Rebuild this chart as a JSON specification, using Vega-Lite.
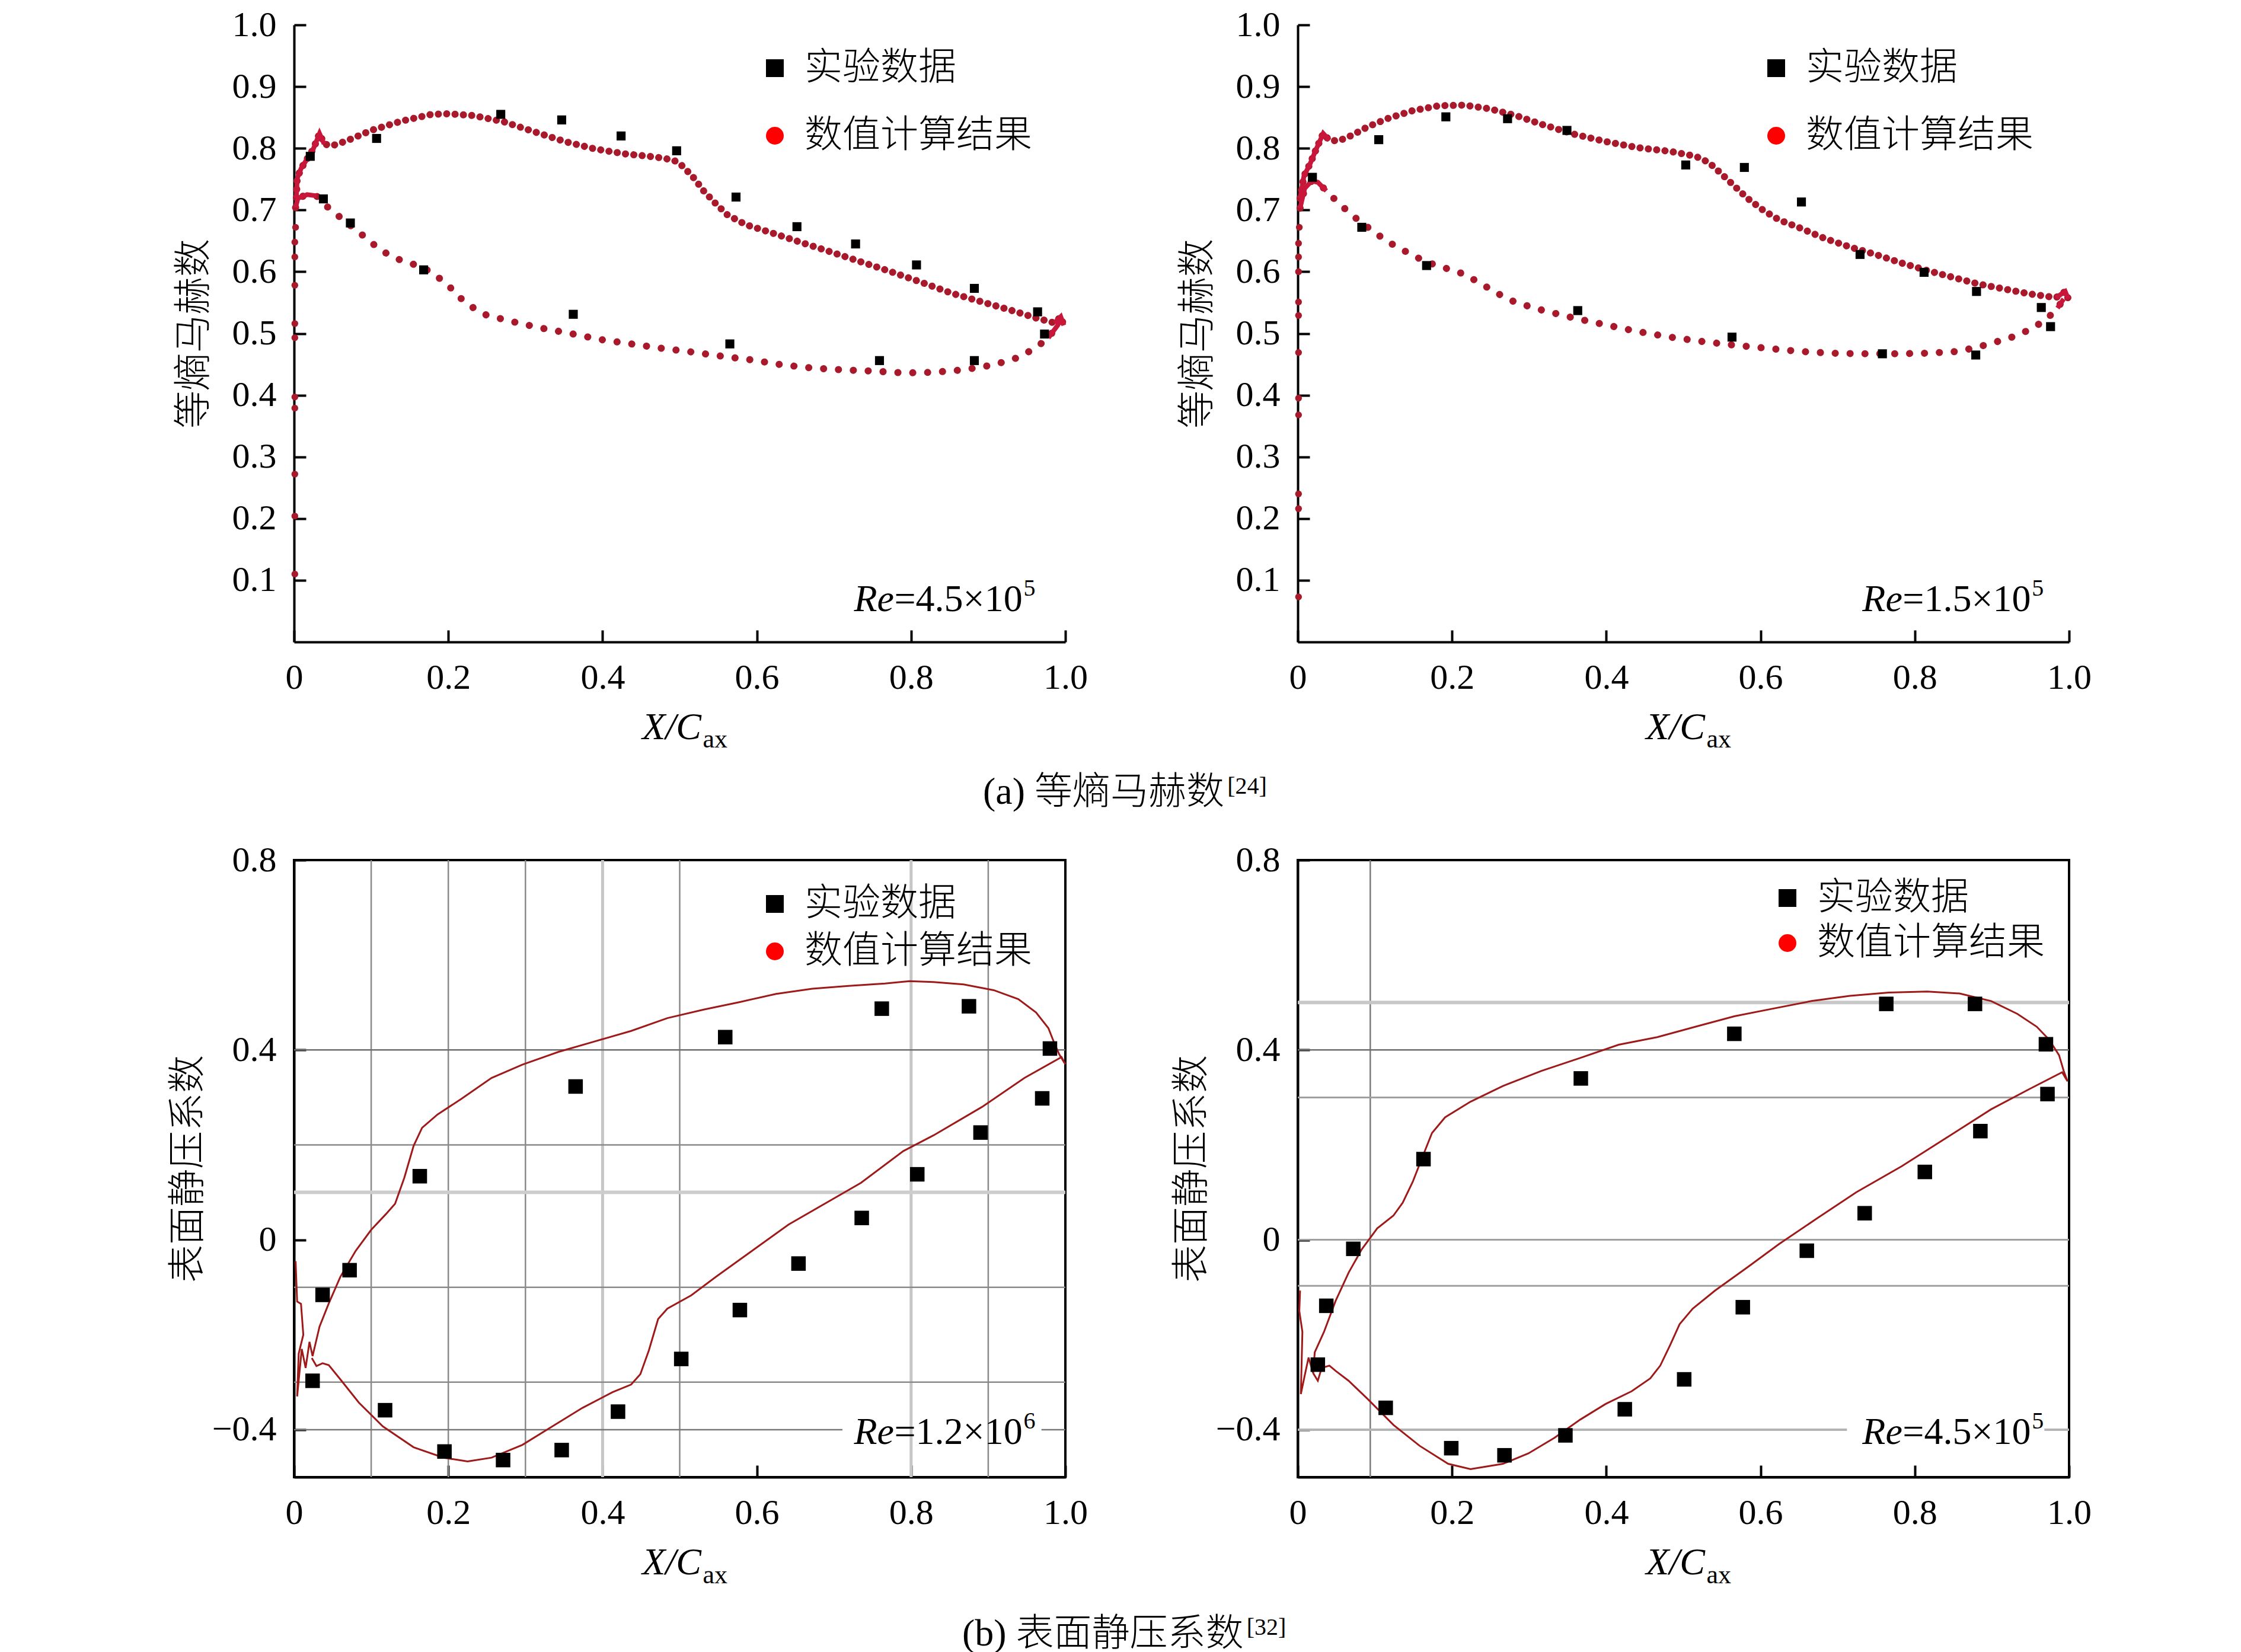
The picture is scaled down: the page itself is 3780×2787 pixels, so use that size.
{
  "$schema": "https://vega.github.io/schema/vega-lite/v6.json",
  "background": "white",
  "padding": {"left": 283, "top": 12, "right": 5, "bottom": 0},
  "datasets": {
    "tl_exp": [
      {"x": 0.021, "y": 0.787}, {"x": 0.107, "y": 0.816}, {"x": 0.268, "y": 0.855}, {"x": 0.347, "y": 0.846},
      {"x": 0.424, "y": 0.820}, {"x": 0.496, "y": 0.796}, {"x": 0.573, "y": 0.721}, {"x": 0.652, "y": 0.673},
      {"x": 0.728, "y": 0.645}, {"x": 0.807, "y": 0.611}, {"x": 0.882, "y": 0.573}, {"x": 0.964, "y": 0.535},
      {"x": 0.973, "y": 0.499}, {"x": 0.038, "y": 0.718}, {"x": 0.073, "y": 0.679}, {"x": 0.168, "y": 0.603},
      {"x": 0.362, "y": 0.531}, {"x": 0.565, "y": 0.483}, {"x": 0.759, "y": 0.456}, {"x": 0.882, "y": 0.456}
    ],
    "tl_num": [
      {"srf": "u", "x": 0.003, "y": 0.720}, {"srf": "u", "x": 0.004, "y": 0.751}, {"srf": "u", "x": 0.009, "y": 0.767},
      {"srf": "u", "x": 0.017, "y": 0.783}, {"srf": "u", "x": 0.025, "y": 0.799}, {"srf": "u", "x": 0.033, "y": 0.824},
      {"srf": "u", "x": 0.039, "y": 0.807}, {"srf": "u", "x": 0.049, "y": 0.804}, {"srf": "u", "x": 0.068, "y": 0.812},
      {"srf": "u", "x": 0.100, "y": 0.829}, {"srf": "u", "x": 0.139, "y": 0.844}, {"srf": "u", "x": 0.178, "y": 0.855},
      {"srf": "u", "x": 0.200, "y": 0.856}, {"srf": "u", "x": 0.233, "y": 0.853}, {"srf": "u", "x": 0.272, "y": 0.843},
      {"srf": "u", "x": 0.311, "y": 0.827}, {"srf": "u", "x": 0.351, "y": 0.811}, {"srf": "u", "x": 0.390, "y": 0.799},
      {"srf": "u", "x": 0.429, "y": 0.791}, {"srf": "u", "x": 0.468, "y": 0.786}, {"srf": "u", "x": 0.492, "y": 0.781},
      {"srf": "u", "x": 0.504, "y": 0.771}, {"srf": "u", "x": 0.519, "y": 0.751}, {"srf": "u", "x": 0.531, "y": 0.731},
      {"srf": "u", "x": 0.547, "y": 0.710}, {"srf": "u", "x": 0.562, "y": 0.692}, {"srf": "u", "x": 0.586, "y": 0.676},
      {"srf": "u", "x": 0.617, "y": 0.664}, {"srf": "u", "x": 0.656, "y": 0.648}, {"srf": "u", "x": 0.696, "y": 0.632},
      {"srf": "u", "x": 0.735, "y": 0.616}, {"srf": "u", "x": 0.774, "y": 0.600}, {"srf": "u", "x": 0.813, "y": 0.583},
      {"srf": "u", "x": 0.853, "y": 0.565}, {"srf": "u", "x": 0.892, "y": 0.551}, {"srf": "u", "x": 0.931, "y": 0.537},
      {"srf": "u", "x": 0.962, "y": 0.525}, {"srf": "u", "x": 0.986, "y": 0.517}, {"srf": "u", "x": 0.994, "y": 0.527},
      {"srf": "u", "x": 0.998, "y": 0.513},
      {"srf": "l", "x": 0.002, "y": 0.704}, {"srf": "l", "x": 0.005, "y": 0.719}, {"srf": "l", "x": 0.017, "y": 0.725},
      {"srf": "l", "x": 0.029, "y": 0.723}, {"srf": "l", "x": 0.045, "y": 0.703}, {"srf": "l", "x": 0.060, "y": 0.688},
      {"srf": "l", "x": 0.076, "y": 0.672}, {"srf": "l", "x": 0.092, "y": 0.656}, {"srf": "l", "x": 0.111, "y": 0.636},
      {"srf": "l", "x": 0.131, "y": 0.622}, {"srf": "l", "x": 0.155, "y": 0.612}, {"srf": "l", "x": 0.174, "y": 0.602},
      {"srf": "l", "x": 0.190, "y": 0.588}, {"srf": "l", "x": 0.202, "y": 0.575}, {"srf": "l", "x": 0.217, "y": 0.556},
      {"srf": "l", "x": 0.233, "y": 0.541}, {"srf": "l", "x": 0.249, "y": 0.530}, {"srf": "l", "x": 0.280, "y": 0.520},
      {"srf": "l", "x": 0.319, "y": 0.509}, {"srf": "l", "x": 0.358, "y": 0.500}, {"srf": "l", "x": 0.398, "y": 0.490},
      {"srf": "l", "x": 0.437, "y": 0.483}, {"srf": "l", "x": 0.476, "y": 0.476}, {"srf": "l", "x": 0.515, "y": 0.470},
      {"srf": "l", "x": 0.555, "y": 0.463}, {"srf": "l", "x": 0.594, "y": 0.457}, {"srf": "l", "x": 0.633, "y": 0.449},
      {"srf": "l", "x": 0.672, "y": 0.444}, {"srf": "l", "x": 0.711, "y": 0.441}, {"srf": "l", "x": 0.751, "y": 0.439},
      {"srf": "l", "x": 0.790, "y": 0.436}, {"srf": "l", "x": 0.829, "y": 0.437}, {"srf": "l", "x": 0.868, "y": 0.441},
      {"srf": "l", "x": 0.907, "y": 0.449}, {"srf": "l", "x": 0.939, "y": 0.461}, {"srf": "l", "x": 0.962, "y": 0.477},
      {"srf": "l", "x": 0.978, "y": 0.493}, {"srf": "l", "x": 0.990, "y": 0.513}, {"srf": "l", "x": 0.995, "y": 0.525}
    ],
    "tl_le": [
      {"x": 0.001, "y": 0.110}, {"x": 0.001, "y": 0.204}, {"x": 0.001, "y": 0.272}, {"x": 0.001, "y": 0.379},
      {"x": 0.001, "y": 0.397}, {"x": 0.001, "y": 0.493}, {"x": 0.001, "y": 0.516}, {"x": 0.001, "y": 0.578},
      {"x": 0.001, "y": 0.624}, {"x": 0.001, "y": 0.648}, {"x": 0.002, "y": 0.672}
    ],
    "tr_exp": [
      {"x": 0.019, "y": 0.753}, {"x": 0.105, "y": 0.814}, {"x": 0.192, "y": 0.851}, {"x": 0.272, "y": 0.848},
      {"x": 0.349, "y": 0.829}, {"x": 0.503, "y": 0.773}, {"x": 0.579, "y": 0.769}, {"x": 0.653, "y": 0.713},
      {"x": 0.729, "y": 0.628}, {"x": 0.812, "y": 0.599}, {"x": 0.880, "y": 0.568}, {"x": 0.964, "y": 0.542},
      {"x": 0.976, "y": 0.511}, {"x": 0.083, "y": 0.672}, {"x": 0.167, "y": 0.610}, {"x": 0.363, "y": 0.537},
      {"x": 0.563, "y": 0.494}, {"x": 0.758, "y": 0.467}, {"x": 0.879, "y": 0.465}
    ],
    "tr_num": [
      {"srf": "u", "x": 0.003, "y": 0.719}, {"srf": "u", "x": 0.008, "y": 0.755}, {"srf": "u", "x": 0.016, "y": 0.775},
      {"srf": "u", "x": 0.024, "y": 0.799}, {"srf": "u", "x": 0.033, "y": 0.824}, {"srf": "u", "x": 0.041, "y": 0.813},
      {"srf": "u", "x": 0.053, "y": 0.812}, {"srf": "u", "x": 0.070, "y": 0.821}, {"srf": "u", "x": 0.091, "y": 0.835},
      {"srf": "u", "x": 0.116, "y": 0.848}, {"srf": "u", "x": 0.149, "y": 0.861}, {"srf": "u", "x": 0.183, "y": 0.869},
      {"srf": "u", "x": 0.216, "y": 0.870}, {"srf": "u", "x": 0.249, "y": 0.864}, {"srf": "u", "x": 0.283, "y": 0.853},
      {"srf": "u", "x": 0.316, "y": 0.839}, {"srf": "u", "x": 0.358, "y": 0.823}, {"srf": "u", "x": 0.399, "y": 0.811},
      {"srf": "u", "x": 0.441, "y": 0.801}, {"srf": "u", "x": 0.483, "y": 0.795}, {"srf": "u", "x": 0.516, "y": 0.787},
      {"srf": "u", "x": 0.533, "y": 0.777}, {"srf": "u", "x": 0.549, "y": 0.759}, {"srf": "u", "x": 0.566, "y": 0.739},
      {"srf": "u", "x": 0.583, "y": 0.719}, {"srf": "u", "x": 0.603, "y": 0.700}, {"srf": "u", "x": 0.624, "y": 0.684},
      {"srf": "u", "x": 0.649, "y": 0.672}, {"srf": "u", "x": 0.683, "y": 0.654}, {"srf": "u", "x": 0.716, "y": 0.640},
      {"srf": "u", "x": 0.749, "y": 0.628}, {"srf": "u", "x": 0.783, "y": 0.614}, {"srf": "u", "x": 0.816, "y": 0.602},
      {"srf": "u", "x": 0.849, "y": 0.591}, {"srf": "u", "x": 0.883, "y": 0.580}, {"srf": "u", "x": 0.916, "y": 0.572},
      {"srf": "u", "x": 0.949, "y": 0.564}, {"srf": "u", "x": 0.983, "y": 0.558}, {"srf": "u", "x": 0.995, "y": 0.568},
      {"srf": "u", "x": 0.999, "y": 0.556},
      {"srf": "l", "x": 0.003, "y": 0.703}, {"srf": "l", "x": 0.009, "y": 0.735}, {"srf": "l", "x": 0.018, "y": 0.747},
      {"srf": "l", "x": 0.026, "y": 0.745}, {"srf": "l", "x": 0.037, "y": 0.731}, {"srf": "l", "x": 0.053, "y": 0.711},
      {"srf": "l", "x": 0.074, "y": 0.688}, {"srf": "l", "x": 0.095, "y": 0.668}, {"srf": "l", "x": 0.116, "y": 0.649},
      {"srf": "l", "x": 0.141, "y": 0.632}, {"srf": "l", "x": 0.166, "y": 0.616}, {"srf": "l", "x": 0.191, "y": 0.606},
      {"srf": "l", "x": 0.216, "y": 0.596}, {"srf": "l", "x": 0.241, "y": 0.578}, {"srf": "l", "x": 0.266, "y": 0.560},
      {"srf": "l", "x": 0.283, "y": 0.550}, {"srf": "l", "x": 0.316, "y": 0.538}, {"srf": "l", "x": 0.358, "y": 0.525},
      {"srf": "l", "x": 0.399, "y": 0.514}, {"srf": "l", "x": 0.441, "y": 0.503}, {"srf": "l", "x": 0.483, "y": 0.494},
      {"srf": "l", "x": 0.524, "y": 0.487}, {"srf": "l", "x": 0.566, "y": 0.481}, {"srf": "l", "x": 0.608, "y": 0.476},
      {"srf": "l", "x": 0.649, "y": 0.471}, {"srf": "l", "x": 0.691, "y": 0.468}, {"srf": "l", "x": 0.733, "y": 0.467},
      {"srf": "l", "x": 0.774, "y": 0.467}, {"srf": "l", "x": 0.816, "y": 0.468}, {"srf": "l", "x": 0.858, "y": 0.471},
      {"srf": "l", "x": 0.891, "y": 0.481}, {"srf": "l", "x": 0.924, "y": 0.493}, {"srf": "l", "x": 0.949, "y": 0.506},
      {"srf": "l", "x": 0.970, "y": 0.522}, {"srf": "l", "x": 0.985, "y": 0.541}, {"srf": "l", "x": 0.993, "y": 0.556}
    ],
    "tr_le": [
      {"x": 0.001, "y": 0.073}, {"x": 0.001, "y": 0.216}, {"x": 0.001, "y": 0.240}, {"x": 0.001, "y": 0.368},
      {"x": 0.001, "y": 0.395}, {"x": 0.001, "y": 0.469}, {"x": 0.001, "y": 0.529}, {"x": 0.001, "y": 0.551},
      {"x": 0.001, "y": 0.600}, {"x": 0.001, "y": 0.624}, {"x": 0.001, "y": 0.646}, {"x": 0.002, "y": 0.672}
    ],
    "bl_exp": [
      {"x": 0.024, "y": -0.297}, {"x": 0.037, "y": -0.116}, {"x": 0.072, "y": -0.064}, {"x": 0.118, "y": -0.359},
      {"x": 0.163, "y": 0.134}, {"x": 0.195, "y": -0.446}, {"x": 0.271, "y": -0.464}, {"x": 0.347, "y": -0.443},
      {"x": 0.365, "y": 0.323}, {"x": 0.420, "y": -0.362}, {"x": 0.502, "y": -0.251}, {"x": 0.559, "y": 0.427},
      {"x": 0.578, "y": -0.148}, {"x": 0.654, "y": -0.050}, {"x": 0.736, "y": 0.046}, {"x": 0.762, "y": 0.487},
      {"x": 0.808, "y": 0.138}, {"x": 0.875, "y": 0.492}, {"x": 0.890, "y": 0.226}, {"x": 0.970, "y": 0.298},
      {"x": 0.980, "y": 0.403}
    ],
    "bl_num": [
      {"x": 0.002, "y": -0.045}, {"x": 0.004, "y": -0.130}, {"x": 0.009, "y": -0.135}, {"x": 0.012, "y": -0.200},
      {"x": 0.006, "y": -0.240}, {"x": 0.004, "y": -0.330}, {"x": 0.010, "y": -0.230}, {"x": 0.015, "y": -0.270},
      {"x": 0.020, "y": -0.215}, {"x": 0.024, "y": -0.245}, {"x": 0.033, "y": -0.183}, {"x": 0.045, "y": -0.134},
      {"x": 0.060, "y": -0.078}, {"x": 0.080, "y": -0.023}, {"x": 0.100, "y": 0.021}, {"x": 0.119, "y": 0.054},
      {"x": 0.131, "y": 0.076}, {"x": 0.143, "y": 0.131}, {"x": 0.155, "y": 0.198}, {"x": 0.166, "y": 0.236},
      {"x": 0.186, "y": 0.264}, {"x": 0.217, "y": 0.297}, {"x": 0.256, "y": 0.341}, {"x": 0.296, "y": 0.369},
      {"x": 0.343, "y": 0.396}, {"x": 0.390, "y": 0.418}, {"x": 0.437, "y": 0.440}, {"x": 0.484, "y": 0.467},
      {"x": 0.531, "y": 0.485}, {"x": 0.578, "y": 0.501}, {"x": 0.625, "y": 0.518}, {"x": 0.672, "y": 0.529},
      {"x": 0.719, "y": 0.535}, {"x": 0.766, "y": 0.540}, {"x": 0.798, "y": 0.545}, {"x": 0.829, "y": 0.543},
      {"x": 0.868, "y": 0.538}, {"x": 0.907, "y": 0.526}, {"x": 0.939, "y": 0.507}, {"x": 0.962, "y": 0.479},
      {"x": 0.978, "y": 0.446}, {"x": 0.986, "y": 0.413}, {"x": 0.992, "y": 0.391}, {"x": 0.998, "y": 0.375},
      {"x": 1.000, "y": 0.370}, {"x": 0.995, "y": 0.385}, {"x": 0.947, "y": 0.341}, {"x": 0.892, "y": 0.280},
      {"x": 0.829, "y": 0.220}, {"x": 0.790, "y": 0.187}, {"x": 0.735, "y": 0.120}, {"x": 0.688, "y": 0.076},
      {"x": 0.641, "y": 0.032}, {"x": 0.594, "y": -0.023}, {"x": 0.547, "y": -0.078}, {"x": 0.515, "y": -0.117},
      {"x": 0.484, "y": -0.145}, {"x": 0.472, "y": -0.167}, {"x": 0.460, "y": -0.233}, {"x": 0.449, "y": -0.283},
      {"x": 0.437, "y": -0.305}, {"x": 0.413, "y": -0.321}, {"x": 0.374, "y": -0.354}, {"x": 0.335, "y": -0.393},
      {"x": 0.296, "y": -0.432}, {"x": 0.256, "y": -0.459}, {"x": 0.225, "y": -0.467}, {"x": 0.194, "y": -0.459},
      {"x": 0.155, "y": -0.437}, {"x": 0.115, "y": -0.393}, {"x": 0.084, "y": -0.343}, {"x": 0.060, "y": -0.294},
      {"x": 0.045, "y": -0.264}, {"x": 0.037, "y": -0.260}, {"x": 0.029, "y": -0.266}, {"x": 0.023, "y": -0.249}
    ],
    "br_exp": [
      {"x": 0.026, "y": -0.263}, {"x": 0.037, "y": -0.139}, {"x": 0.072, "y": -0.019}, {"x": 0.114, "y": -0.354},
      {"x": 0.163, "y": 0.170}, {"x": 0.199, "y": -0.439}, {"x": 0.268, "y": -0.454}, {"x": 0.347, "y": -0.412},
      {"x": 0.367, "y": 0.340}, {"x": 0.424, "y": -0.357}, {"x": 0.501, "y": -0.294}, {"x": 0.566, "y": 0.434},
      {"x": 0.577, "y": -0.142}, {"x": 0.660, "y": -0.023}, {"x": 0.735, "y": 0.056}, {"x": 0.763, "y": 0.497},
      {"x": 0.813, "y": 0.143}, {"x": 0.878, "y": 0.497}, {"x": 0.885, "y": 0.229}, {"x": 0.970, "y": 0.412},
      {"x": 0.972, "y": 0.307}
    ],
    "br_num": [
      {"x": 0.003, "y": -0.107}, {"x": 0.002, "y": -0.150}, {"x": 0.006, "y": -0.194}, {"x": 0.004, "y": -0.325},
      {"x": 0.009, "y": -0.286}, {"x": 0.014, "y": -0.248}, {"x": 0.020, "y": -0.281}, {"x": 0.022, "y": -0.237},
      {"x": 0.034, "y": -0.194}, {"x": 0.049, "y": -0.129}, {"x": 0.066, "y": -0.069}, {"x": 0.083, "y": -0.020},
      {"x": 0.103, "y": 0.024}, {"x": 0.124, "y": 0.051}, {"x": 0.136, "y": 0.078}, {"x": 0.149, "y": 0.122},
      {"x": 0.162, "y": 0.176}, {"x": 0.174, "y": 0.225}, {"x": 0.191, "y": 0.258}, {"x": 0.224, "y": 0.291},
      {"x": 0.266, "y": 0.324}, {"x": 0.316, "y": 0.356}, {"x": 0.366, "y": 0.383}, {"x": 0.416, "y": 0.411},
      {"x": 0.466, "y": 0.427}, {"x": 0.516, "y": 0.449}, {"x": 0.566, "y": 0.471}, {"x": 0.616, "y": 0.487},
      {"x": 0.666, "y": 0.503}, {"x": 0.716, "y": 0.514}, {"x": 0.766, "y": 0.521}, {"x": 0.816, "y": 0.523},
      {"x": 0.858, "y": 0.519}, {"x": 0.899, "y": 0.503}, {"x": 0.933, "y": 0.476}, {"x": 0.958, "y": 0.449},
      {"x": 0.974, "y": 0.422}, {"x": 0.987, "y": 0.389}, {"x": 0.993, "y": 0.356}, {"x": 0.998, "y": 0.334},
      {"x": 0.991, "y": 0.353}, {"x": 0.949, "y": 0.318}, {"x": 0.899, "y": 0.275}, {"x": 0.841, "y": 0.215},
      {"x": 0.783, "y": 0.155}, {"x": 0.724, "y": 0.100}, {"x": 0.674, "y": 0.046}, {"x": 0.624, "y": -0.009},
      {"x": 0.583, "y": -0.058}, {"x": 0.541, "y": -0.107}, {"x": 0.512, "y": -0.145}, {"x": 0.495, "y": -0.178},
      {"x": 0.483, "y": -0.221}, {"x": 0.470, "y": -0.265}, {"x": 0.457, "y": -0.292}, {"x": 0.433, "y": -0.319},
      {"x": 0.399, "y": -0.346}, {"x": 0.366, "y": -0.379}, {"x": 0.333, "y": -0.417}, {"x": 0.299, "y": -0.450},
      {"x": 0.266, "y": -0.472}, {"x": 0.224, "y": -0.483}, {"x": 0.195, "y": -0.472}, {"x": 0.158, "y": -0.434},
      {"x": 0.124, "y": -0.390}, {"x": 0.091, "y": -0.336}, {"x": 0.066, "y": -0.297}, {"x": 0.049, "y": -0.276},
      {"x": 0.041, "y": -0.265}, {"x": 0.031, "y": -0.270}, {"x": 0.026, "y": -0.297}, {"x": 0.020, "y": -0.281}
    ]
  },
  "config": {
    "view": {"stroke": null},
    "axis": {
      "domainColor": "#000", "domainWidth": 4, "tickColor": "#000", "tickWidth": 4, "tickSize": -20,
      "labelFont": "Liberation Serif", "labelFontSize": 60, "labelColor": "#000",
      "labelFlush": false, "labelOverlap": false, "grid": false,
      "titleFont": "Noto Sans CJK SC", "titleFontSize": 64, "titleFontWeight": 300, "titleColor": "#000"
    },
    "axisX": {"labelPadding": 51},
    "axisY": {"labelPadding": 50},
    "legend": {
      "labelFont": "Noto Sans CJK SC", "labelFontSize": 64, "labelFontWeight": 300, "labelColor": "#000",
      "symbolSize": 900, "symbolStrokeWidth": 0, "labelOffset": 18, "labelLimit": 0
    }
  },
  "bounds": "flush",
  "columns": 2,
  "spacing": {"row": 368, "column": 392},
  "resolve": {
    "scale": {"color": "independent", "shape": "independent"},
    "legend": {"color": "independent", "shape": "independent"}
  },
  "concat": [
    {
      "width": 1301,
      "height": 1041,
      "view": {"stroke": null},
      "layer": [
        {
          "data": {"name": "tl_num"},
          "transform": [{"window": [{"op": "row_number", "as": "i"}]}, {"filter": "datum.srf == 'u'"}],
          "mark": {"type": "line", "color": "#a8192b", "strokeWidth": 12, "strokeDash": [0.1, 14], "strokeCap": "round"},
          "encoding": {
            "x": {"field": "x", "type": "quantitative", "scale": {"domain": [0, 1], "nice": false},
              "axis": {"values": [0, 0.2, 0.4, 0.6, 0.8, 1.0], "title": null, "labelExpr": "datum.value == 0 ? '0' : format(datum.value, '.1f')"}},
            "y": {"field": "y", "type": "quantitative", "scale": {"domain": [0, 1], "nice": false},
              "axis": {"values": [0.1, 0.2, 0.3, 0.4, 0.5, 0.6, 0.7, 0.8, 0.9, 1.0], "title": "等熵马赫数", "titlePadding": 32, "labelExpr": "format(datum.value, '.1f')"}},
            "order": {"field": "i", "type": "quantitative"}
          }
        },
        {
          "data": {"name": "tl_num"},
          "transform": [{"window": [{"op": "row_number", "as": "i"}]}, {"filter": "datum.srf == 'l'"}],
          "mark": {"type": "line", "color": "#a8192b", "strokeWidth": 12, "strokeDash": [0.1, 25], "strokeCap": "round"},
          "encoding": {
            "x": {"field": "x", "type": "quantitative"},
            "y": {"field": "y", "type": "quantitative"},
            "order": {"field": "i", "type": "quantitative"}
          }
        },
        {
          "data": {"name": "tl_num"},
          "transform": [{"window": [{"op": "row_number", "as": "i"}]}, {"filter": "datum.x < 0.045"}],
          "mark": {"type": "line", "color": "#c8173a", "strokeWidth": 8},
          "encoding": {
            "x": {"field": "x", "type": "quantitative"},
            "y": {"field": "y", "type": "quantitative"},
            "detail": {"field": "srf"},
            "order": {"field": "i", "type": "quantitative"}
          }
        },
        {
          "data": {"name": "tl_num"},
          "transform": [{"window": [{"op": "row_number", "as": "i"}]}, {"filter": "datum.x > 0.97"}],
          "mark": {"type": "line", "color": "#c8173a", "strokeWidth": 8},
          "encoding": {
            "x": {"field": "x", "type": "quantitative"},
            "y": {"field": "y", "type": "quantitative"},
            "detail": {"field": "srf"},
            "order": {"field": "i", "type": "quantitative"}
          }
        },
        {
          "data": {"name": "tl_le"},
          "mark": {"type": "circle", "color": "#a8192b", "size": 130, "opacity": 1},
          "encoding": {"x": {"field": "x", "type": "quantitative"}, "y": {"field": "y", "type": "quantitative"}}
        },
        {
          "data": {"name": "tl_exp"},
          "mark": {"type": "point", "filled": true, "size": 230, "opacity": 1},
          "encoding": {
            "x": {"field": "x", "type": "quantitative"},
            "y": {"field": "y", "type": "quantitative"},
            "color": {"datum": "实验数据", "type": "nominal",
              "scale": {"domain": ["实验数据", "数值计算结果"], "range": ["#000000", "#ff0000"]},
              "legend": {"orient": "none", "legendX": 779, "legendY": 41, "title": null, "rowPadding": 50}},
            "shape": {"datum": "实验数据", "type": "nominal",
              "scale": {"domain": ["实验数据", "数值计算结果"], "range": ["square", "circle"]},
              "legend": {"orient": "none", "legendX": 779, "legendY": 41, "title": null, "rowPadding": 50}}
          }
        },
        {
          "data": {"values": [{}]},
          "mark": {"type": "text", "text": "X/C", "font": "Liberation Serif", "fontStyle": "italic", "fontSize": 64, "align": "right", "baseline": "alphabetic", "color": "#000"},
          "encoding": {"x": {"datum": 0.528}, "y": {"datum": -0.1575}}
        },
        {
          "data": {"values": [{}]},
          "mark": {"type": "text", "text": "ax", "font": "Liberation Serif", "fontSize": 44, "align": "left", "baseline": "alphabetic", "color": "#000"},
          "encoding": {"x": {"datum": 0.530}, "y": {"datum": -0.171}}
        },
        {
          "data": {"values": [{}]},
          "mark": {"type": "text", "text": "Re", "font": "Liberation Serif", "fontStyle": "italic", "fontSize": 64, "align": "left", "baseline": "alphabetic", "color": "#000"},
          "encoding": {"x": {"datum": 0.726}, "y": {"datum": 0.05}}
        },
        {
          "data": {"values": [{}]},
          "mark": {"type": "text", "text": "=4.5×10", "font": "Liberation Serif", "fontSize": 64, "align": "left", "baseline": "alphabetic", "dx": 68, "color": "#000"},
          "encoding": {"x": {"datum": 0.726}, "y": {"datum": 0.05}}
        },
        {
          "data": {"values": [{}]},
          "mark": {"type": "text", "text": "5", "font": "Liberation Serif", "fontSize": 40, "align": "left", "baseline": "alphabetic", "dx": 286, "dy": -26, "color": "#000"},
          "encoding": {"x": {"datum": 0.726}, "y": {"datum": 0.05}}
        },
        {
          "data": {"values": [{}]},
          "mark": {"type": "text", "text": "(a) 等熵马赫数", "font": "Liberation Serif, Noto Sans CJK SC", "fontSize": 64, "fontWeight": 300, "align": "right", "baseline": "alphabetic", "color": "#000"},
          "encoding": {"x": {"datum": 1.206}, "y": {"datum": -0.262}}
        },
        {
          "data": {"values": [{}]},
          "mark": {"type": "text", "text": "[24]", "font": "Liberation Serif", "fontSize": 40, "align": "left", "baseline": "alphabetic", "color": "#000"},
          "encoding": {"x": {"datum": 1.210}, "y": {"datum": -0.246}}
        }
      ]
    },
    {
      "width": 1301,
      "height": 1041,
      "view": {"stroke": null},
      "layer": [
        {
          "data": {"name": "tr_num"},
          "transform": [{"window": [{"op": "row_number", "as": "i"}]}, {"filter": "datum.srf == 'u'"}],
          "mark": {"type": "line", "color": "#a8192b", "strokeWidth": 12, "strokeDash": [0.1, 14], "strokeCap": "round"},
          "encoding": {
            "x": {"field": "x", "type": "quantitative", "scale": {"domain": [0, 1], "nice": false},
              "axis": {"values": [0, 0.2, 0.4, 0.6, 0.8, 1.0], "title": null, "labelExpr": "datum.value == 0 ? '0' : format(datum.value, '.1f')"}},
            "y": {"field": "y", "type": "quantitative", "scale": {"domain": [0, 1], "nice": false},
              "axis": {"values": [0.1, 0.2, 0.3, 0.4, 0.5, 0.6, 0.7, 0.8, 0.9, 1.0], "title": "等熵马赫数", "titlePadding": 32, "labelExpr": "format(datum.value, '.1f')"}},
            "order": {"field": "i", "type": "quantitative"}
          }
        },
        {
          "data": {"name": "tr_num"},
          "transform": [{"window": [{"op": "row_number", "as": "i"}]}, {"filter": "datum.srf == 'l'"}],
          "mark": {"type": "line", "color": "#a8192b", "strokeWidth": 12, "strokeDash": [0.1, 25], "strokeCap": "round"},
          "encoding": {
            "x": {"field": "x", "type": "quantitative"},
            "y": {"field": "y", "type": "quantitative"},
            "order": {"field": "i", "type": "quantitative"}
          }
        },
        {
          "data": {"name": "tr_num"},
          "transform": [{"window": [{"op": "row_number", "as": "i"}]}, {"filter": "datum.x < 0.045"}],
          "mark": {"type": "line", "color": "#c8173a", "strokeWidth": 8},
          "encoding": {
            "x": {"field": "x", "type": "quantitative"},
            "y": {"field": "y", "type": "quantitative"},
            "detail": {"field": "srf"},
            "order": {"field": "i", "type": "quantitative"}
          }
        },
        {
          "data": {"name": "tr_num"},
          "transform": [{"window": [{"op": "row_number", "as": "i"}]}, {"filter": "datum.x > 0.97"}],
          "mark": {"type": "line", "color": "#c8173a", "strokeWidth": 8},
          "encoding": {
            "x": {"field": "x", "type": "quantitative"},
            "y": {"field": "y", "type": "quantitative"},
            "detail": {"field": "srf"},
            "order": {"field": "i", "type": "quantitative"}
          }
        },
        {
          "data": {"name": "tr_le"},
          "mark": {"type": "circle", "color": "#a8192b", "size": 130, "opacity": 1},
          "encoding": {"x": {"field": "x", "type": "quantitative"}, "y": {"field": "y", "type": "quantitative"}}
        },
        {
          "data": {"name": "tr_exp"},
          "mark": {"type": "point", "filled": true, "size": 230, "opacity": 1},
          "encoding": {
            "x": {"field": "x", "type": "quantitative"},
            "y": {"field": "y", "type": "quantitative"},
            "color": {"datum": "实验数据", "type": "nominal",
              "scale": {"domain": ["实验数据", "数值计算结果"], "range": ["#000000", "#ff0000"]},
              "legend": {"orient": "none", "legendX": 775, "legendY": 41, "title": null, "rowPadding": 50}},
            "shape": {"datum": "实验数据", "type": "nominal",
              "scale": {"domain": ["实验数据", "数值计算结果"], "range": ["square", "circle"]},
              "legend": {"orient": "none", "legendX": 775, "legendY": 41, "title": null, "rowPadding": 50}}
          }
        },
        {
          "data": {"values": [{}]},
          "mark": {"type": "text", "text": "X/C", "font": "Liberation Serif", "fontStyle": "italic", "fontSize": 64, "align": "right", "baseline": "alphabetic", "color": "#000"},
          "encoding": {"x": {"datum": 0.528}, "y": {"datum": -0.1575}}
        },
        {
          "data": {"values": [{}]},
          "mark": {"type": "text", "text": "ax", "font": "Liberation Serif", "fontSize": 44, "align": "left", "baseline": "alphabetic", "color": "#000"},
          "encoding": {"x": {"datum": 0.530}, "y": {"datum": -0.171}}
        },
        {
          "data": {"values": [{}]},
          "mark": {"type": "text", "text": "Re", "font": "Liberation Serif", "fontStyle": "italic", "fontSize": 64, "align": "left", "baseline": "alphabetic", "color": "#000"},
          "encoding": {"x": {"datum": 0.732}, "y": {"datum": 0.05}}
        },
        {
          "data": {"values": [{}]},
          "mark": {"type": "text", "text": "=1.5×10", "font": "Liberation Serif", "fontSize": 64, "align": "left", "baseline": "alphabetic", "dx": 68, "color": "#000"},
          "encoding": {"x": {"datum": 0.732}, "y": {"datum": 0.05}}
        },
        {
          "data": {"values": [{}]},
          "mark": {"type": "text", "text": "5", "font": "Liberation Serif", "fontSize": 40, "align": "left", "baseline": "alphabetic", "dx": 286, "dy": -26, "color": "#000"},
          "encoding": {"x": {"datum": 0.732}, "y": {"datum": 0.05}}
        }
      ]
    },
    {
      "width": 1301,
      "height": 1041,
      "view": {"stroke": "#000", "strokeWidth": 4},
      "layer": [
        {
          "data": {"values": [{"v": 0.1}, {"v": 0.2}, {"v": 0.3}, {"v": 0.5}, {"v": 0.9}]},
          "mark": {"type": "rule", "color": "#8a8a8a", "strokeWidth": 2.5},
          "encoding": {
            "x": {"field": "v", "type": "quantitative", "scale": {"domain": [0, 1], "nice": false},
              "axis": {"values": [0, 0.2, 0.4, 0.6, 0.8, 1.0], "title": null, "labelExpr": "datum.value == 0 ? '0' : format(datum.value, '.1f')"}}
          }
        },
        {
          "data": {"values": [{"v": 0.4}, {"v": 0.8}]},
          "mark": {"type": "rule", "color": "#c6c6c6", "strokeWidth": 5},
          "encoding": {"x": {"field": "v", "type": "quantitative"}}
        },
        {
          "data": {"values": [{"v": 0.4}]},
          "mark": {"type": "rule", "color": "#6e6e6e", "strokeWidth": 2.5},
          "encoding": {
            "y": {"field": "v", "type": "quantitative", "scale": {"domain": [-0.5, 0.8], "nice": false, "zero": false},
              "axis": {"values": [-0.4, 0, 0.4, 0.8], "title": "表面静压系数", "titlePadding": 8, "labelExpr": "datum.value == 0 ? '0' : format(datum.value, '.1f')"}}
          }
        },
        {
          "data": {"values": [{"v": 0.2}, {"v": -0.1}, {"v": -0.3}]},
          "mark": {"type": "rule", "color": "#8a8a8a", "strokeWidth": 2.5},
          "encoding": {"y": {"field": "v", "type": "quantitative"}}
        },
        {
          "data": {"values": [{"v": 0.1}]},
          "mark": {"type": "rule", "color": "#cdcdcd", "strokeWidth": 6},
          "encoding": {"y": {"field": "v", "type": "quantitative"}}
        },
        {
          "data": {"values": [{"v": -0.4, "a": 0, "b": 0.711}, {"v": -0.4, "a": 0.969, "b": 1}]},
          "mark": {"type": "rule", "color": "#777777", "strokeWidth": 2.5},
          "encoding": {"y": {"field": "v", "type": "quantitative"}, "x": {"field": "a", "type": "quantitative"}, "x2": {"field": "b"}}
        },
        {
          "data": {"name": "bl_num"},
          "transform": [{"window": [{"op": "row_number", "as": "i"}]}],
          "mark": {"type": "line", "color": "#9e1a1a", "strokeWidth": 3},
          "encoding": {
            "x": {"field": "x", "type": "quantitative"},
            "y": {"field": "y", "type": "quantitative"},
            "order": {"field": "i", "type": "quantitative"}
          }
        },
        {
          "data": {"name": "bl_exp"},
          "mark": {"type": "point", "filled": true, "size": 600, "opacity": 1},
          "encoding": {
            "x": {"field": "x", "type": "quantitative"},
            "y": {"field": "y", "type": "quantitative"},
            "color": {"datum": "实验数据", "type": "nominal",
              "scale": {"domain": ["实验数据", "数值计算结果"], "range": ["#000000", "#ff0000"]},
              "legend": {"orient": "none", "legendX": 779, "legendY": 42, "title": null, "rowPadding": 16}},
            "shape": {"datum": "实验数据", "type": "nominal",
              "scale": {"domain": ["实验数据", "数值计算结果"], "range": ["square", "circle"]},
              "legend": {"orient": "none", "legendX": 779, "legendY": 42, "title": null, "rowPadding": 16}}
          }
        },
        {
          "data": {"values": [{}]},
          "mark": {"type": "text", "text": "X/C", "font": "Liberation Serif", "fontStyle": "italic", "fontSize": 64, "align": "right", "baseline": "alphabetic", "color": "#000"},
          "encoding": {"x": {"datum": 0.528}, "y": {"datum": -0.705}}
        },
        {
          "data": {"values": [{}]},
          "mark": {"type": "text", "text": "ax", "font": "Liberation Serif", "fontSize": 44, "align": "left", "baseline": "alphabetic", "color": "#000"},
          "encoding": {"x": {"datum": 0.530}, "y": {"datum": -0.723}}
        },
        {
          "data": {"values": [{}]},
          "mark": {"type": "text", "text": "Re", "font": "Liberation Serif", "fontStyle": "italic", "fontSize": 64, "align": "left", "baseline": "alphabetic", "color": "#000"},
          "encoding": {"x": {"datum": 0.726}, "y": {"datum": -0.43}}
        },
        {
          "data": {"values": [{}]},
          "mark": {"type": "text", "text": "=1.2×10", "font": "Liberation Serif", "fontSize": 64, "align": "left", "baseline": "alphabetic", "dx": 68, "color": "#000"},
          "encoding": {"x": {"datum": 0.726}, "y": {"datum": -0.43}}
        },
        {
          "data": {"values": [{}]},
          "mark": {"type": "text", "text": "6", "font": "Liberation Serif", "fontSize": 40, "align": "left", "baseline": "alphabetic", "dx": 286, "dy": -26, "color": "#000"},
          "encoding": {"x": {"datum": 0.726}, "y": {"datum": -0.43}}
        },
        {
          "data": {"values": [{}]},
          "mark": {"type": "text", "text": "(b) 表面静压系数", "font": "Liberation Serif, Noto Sans CJK SC", "fontSize": 64, "fontWeight": 300, "align": "right", "baseline": "alphabetic", "color": "#000"},
          "encoding": {"x": {"datum": 1.231}, "y": {"datum": -0.8546}}
        },
        {
          "data": {"values": [{}]},
          "mark": {"type": "text", "text": "[32]", "font": "Liberation Serif", "fontSize": 40, "align": "left", "baseline": "alphabetic", "color": "#000"},
          "encoding": {"x": {"datum": 1.235}, "y": {"datum": -0.832}}
        }
      ]
    },
    {
      "width": 1301,
      "height": 1041,
      "view": {"stroke": "#000", "strokeWidth": 4},
      "layer": [
        {
          "data": {"values": [{"v": 0.094}]},
          "mark": {"type": "rule", "color": "#7a7a7a", "strokeWidth": 2.5},
          "encoding": {
            "x": {"field": "v", "type": "quantitative", "scale": {"domain": [0, 1], "nice": false},
              "axis": {"values": [0, 0.2, 0.4, 0.6, 0.8, 1.0], "title": null, "labelExpr": "datum.value == 0 ? '0' : format(datum.value, '.1f')"}}
          }
        },
        {
          "data": {"values": [{"v": 0.5}]},
          "mark": {"type": "rule", "color": "#c8c8c8", "strokeWidth": 6},
          "encoding": {
            "y": {"field": "v", "type": "quantitative", "scale": {"domain": [-0.5, 0.8], "nice": false, "zero": false},
              "axis": {"values": [-0.4, 0, 0.4, 0.8], "title": "表面静压系数", "titlePadding": 8, "labelExpr": "datum.value == 0 ? '0' : format(datum.value, '.1f')"}}
          }
        },
        {
          "data": {"values": [{"v": 0.4}]},
          "mark": {"type": "rule", "color": "#6e6e6e", "strokeWidth": 2.5},
          "encoding": {"y": {"field": "v", "type": "quantitative"}}
        },
        {
          "data": {"values": [{"v": 0.3}, {"v": 0}, {"v": -0.097}]},
          "mark": {"type": "rule", "color": "#a0a0a0", "strokeWidth": 3},
          "encoding": {"y": {"field": "v", "type": "quantitative"}}
        },
        {
          "data": {"values": [{"v": -0.4, "a": 0, "b": 0.712}, {"v": -0.4, "a": 0.968, "b": 1}]},
          "mark": {"type": "rule", "color": "#b4b4b4", "strokeWidth": 4},
          "encoding": {"y": {"field": "v", "type": "quantitative"}, "x": {"field": "a", "type": "quantitative"}, "x2": {"field": "b"}}
        },
        {
          "data": {"name": "br_num"},
          "transform": [{"window": [{"op": "row_number", "as": "i"}]}],
          "mark": {"type": "line", "color": "#9e1a1a", "strokeWidth": 3},
          "encoding": {
            "x": {"field": "x", "type": "quantitative"},
            "y": {"field": "y", "type": "quantitative"},
            "order": {"field": "i", "type": "quantitative"}
          }
        },
        {
          "data": {"name": "br_exp"},
          "mark": {"type": "point", "filled": true, "size": 600, "opacity": 1},
          "encoding": {
            "x": {"field": "x", "type": "quantitative"},
            "y": {"field": "y", "type": "quantitative"},
            "color": {"datum": "实验数据", "type": "nominal",
              "scale": {"domain": ["实验数据", "数值计算结果"], "range": ["#000000", "#ff0000"]},
              "legend": {"orient": "none", "legendX": 794, "legendY": 32, "title": null, "rowPadding": 12}},
            "shape": {"datum": "实验数据", "type": "nominal",
              "scale": {"domain": ["实验数据", "数值计算结果"], "range": ["square", "circle"]},
              "legend": {"orient": "none", "legendX": 794, "legendY": 32, "title": null, "rowPadding": 12}}
          }
        },
        {
          "data": {"values": [{}]},
          "mark": {"type": "text", "text": "X/C", "font": "Liberation Serif", "fontStyle": "italic", "fontSize": 64, "align": "right", "baseline": "alphabetic", "color": "#000"},
          "encoding": {"x": {"datum": 0.528}, "y": {"datum": -0.705}}
        },
        {
          "data": {"values": [{}]},
          "mark": {"type": "text", "text": "ax", "font": "Liberation Serif", "fontSize": 44, "align": "left", "baseline": "alphabetic", "color": "#000"},
          "encoding": {"x": {"datum": 0.530}, "y": {"datum": -0.723}}
        },
        {
          "data": {"values": [{}]},
          "mark": {"type": "text", "text": "Re", "font": "Liberation Serif", "fontStyle": "italic", "fontSize": 64, "align": "left", "baseline": "alphabetic", "color": "#000"},
          "encoding": {"x": {"datum": 0.732}, "y": {"datum": -0.43}}
        },
        {
          "data": {"values": [{}]},
          "mark": {"type": "text", "text": "=4.5×10", "font": "Liberation Serif", "fontSize": 64, "align": "left", "baseline": "alphabetic", "dx": 68, "color": "#000"},
          "encoding": {"x": {"datum": 0.732}, "y": {"datum": -0.43}}
        },
        {
          "data": {"values": [{}]},
          "mark": {"type": "text", "text": "5", "font": "Liberation Serif", "fontSize": 40, "align": "left", "baseline": "alphabetic", "dx": 286, "dy": -26, "color": "#000"},
          "encoding": {"x": {"datum": 0.732}, "y": {"datum": -0.43}}
        }
      ]
    }
  ]
}
